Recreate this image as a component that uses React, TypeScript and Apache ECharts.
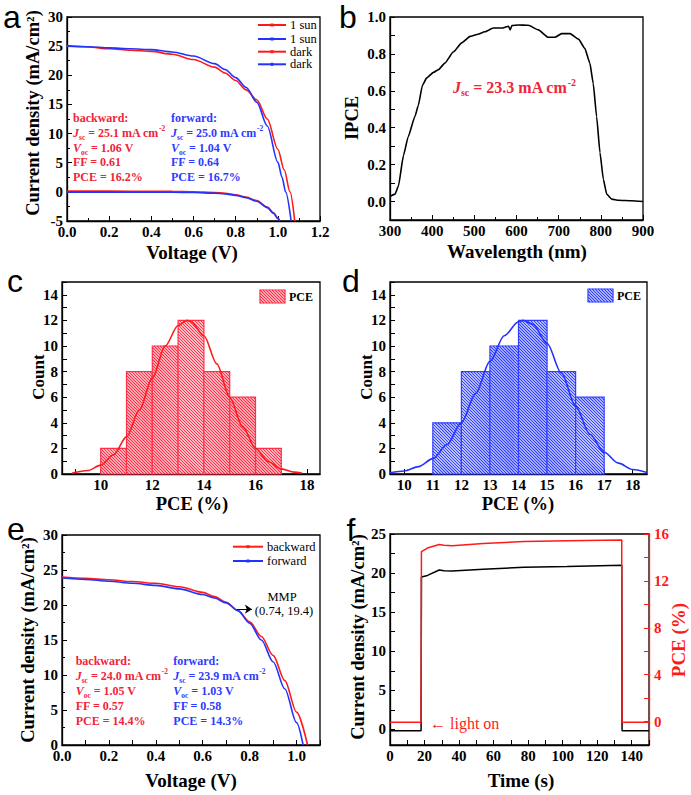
import React, { useEffect, useRef } from 'react';
import * as echarts from 'echarts';

const FONT = 'Liberation Serif';
const SANS = 'Liberation Sans';
const RED = '#ff1a1a';
const BLUE = '#2233ff';
const TEXT_RED = '#f0243a';
const TEXT_BLUE = '#2f3bff';
const HIST_RED = '#ff2f48';
const HIST_BLUE = '#2f3fff';

// ---------- panel a : J-V (1 sun & dark)
const aSunBwdV = [0, 0.1, 0.2, 0.3, 0.4, 0.5, 0.6, 0.7, 0.75, 0.8, 0.85, 0.9, 0.95, 1.0, 1.03, 1.058, 1.08];
const aSunBwdJ = [25.1, 24.85, 24.55, 24.3, 24.1, 23.6, 22.7, 21.4, 20.4, 19.1, 17.5, 15.8, 12.5, 7.3, 3.8, 0, -5];
const aSunFwdV = [0, 0.1, 0.2, 0.3, 0.4, 0.5, 0.6, 0.7, 0.75, 0.8, 0.85, 0.9, 0.95, 1.0, 1.02, 1.037, 1.063];
const aSunFwdJ = [25.0, 24.9, 24.7, 24.55, 24.4, 24.0, 23.3, 22.0, 21.0, 19.6, 17.9, 15.4, 11.3, 5.1, 2.5, 0, -5];
const aDarkV = [0, 0.2, 0.4, 0.5, 0.6, 0.7, 0.75, 0.8, 0.85, 0.9, 0.95, 0.98, 1.0, 1.01];
const aDarkBwdJ = [0.12, 0.12, 0.1, 0.08, 0.03, -0.1, -0.25, -0.5, -0.9, -1.5, -2.6, -3.6, -4.5, -5];
const aDarkFwdJ = [-0.05, -0.05, -0.06, -0.08, -0.12, -0.22, -0.35, -0.6, -1.0, -1.6, -2.7, -3.7, -4.6, -5];
const aLegend = ['1 sun', '1 sun', 'dark', 'dark'];
const aBwdStats = ['25.1', '1.06', '0.61', '16.2'];
const aFwdStats = ['25.0', '1.04', '0.64', '16.7'];

// ---------- panel b : IPCE
const bWl = [302, 312, 320, 332, 343, 359, 367, 377, 387, 403, 415, 430, 450, 470, 490, 506, 525, 545, 565, 581, 585, 589, 604, 628, 652, 675, 691, 707, 727, 747, 762, 774, 782, 790, 798, 806, 814, 826, 842, 873, 900];
const bIpce = [0.03, 0.04, 0.085, 0.25, 0.35, 0.46, 0.52, 0.63, 0.67, 0.70, 0.715, 0.75, 0.81, 0.86, 0.895, 0.905, 0.92, 0.94, 0.94, 0.95, 0.93, 0.953, 0.957, 0.955, 0.93, 0.89, 0.89, 0.91, 0.91, 0.88, 0.83, 0.75, 0.64, 0.46, 0.265, 0.12, 0.04, 0.013, 0.007, 0.004, 0.0];
const bJsc = '23.3';

// ---------- panel c : histogram (backward)
const BIN_W = 1;
const cBins = [10, 11, 12, 13, 14, 15, 16];
const cCounts = [2, 8, 10, 12, 8, 6, 2];
const cFitX = [8.9, 9.5, 10, 10.5, 11, 11.5, 12, 12.5, 13, 13.35, 13.5, 14, 14.5, 15, 15.5, 16, 16.5, 17, 17.5, 17.8];
const cFitY = [0.07, 0.27, 0.69, 1.5, 2.9, 5.0, 7.5, 10.0, 11.6, 12.0, 11.9, 10.8, 8.6, 6.0, 3.7, 2.0, 0.96, 0.4, 0.15, 0.07];

// ---------- panel d : histogram (forward)
const dBins = [11, 12, 13, 14, 15, 16];
const dCounts = [4, 8, 10, 12, 8, 6];
const dFitX = [9.5, 10, 10.5, 11, 11.5, 12, 12.5, 13, 13.5, 14, 14.15, 14.5, 15, 15.5, 16, 16.5, 17, 17.5, 18, 18.5];
const dFitY = [0.1, 0.24, 0.58, 1.2, 2.3, 4.0, 6.3, 8.8, 10.8, 11.9, 12.0, 11.7, 10.2, 7.9, 5.3, 3.1, 1.7, 0.85, 0.35, 0.12];

// ---------- panel e : J-V backward / forward
const eBwdV = [0, 0.1, 0.2, 0.3, 0.4, 0.5, 0.6, 0.65, 0.7, 0.75, 0.8, 0.85, 0.9, 0.95, 1.0, 1.047];
const eBwdJ = [24.0, 23.8, 23.6, 23.35, 23.1, 22.6, 21.8, 21.2, 20.4, 19.2, 17.6, 15.5, 12.8, 9.2, 4.7, 0];
const eFwdV = [0, 0.1, 0.2, 0.3, 0.4, 0.5, 0.6, 0.65, 0.7, 0.75, 0.8, 0.85, 0.9, 0.95, 1.0, 1.028];
const eFwdJ = [23.85, 23.65, 23.4, 23.1, 22.8, 22.3, 21.5, 21.0, 20.3, 19.2, 17.4, 15.0, 11.9, 8.0, 3.2, 0];
const eLegend = ['backward', 'forward'];
const eBwdStats = ['24.0', '1.05', '0.57', '14.4'];
const eFwdStats = ['23.9', '1.03', '0.58', '14.3'];
const mmpPoint = [0.745, 19.4];
const mmpArrowEndV = 0.81;

// ---------- panel f : stabilized output
const fT = [0, 18, 18.2, 21.7, 28.5, 31.3, 36, 54, 77.5, 102.5, 134.2, 134.4, 150];
const fJ = [-0.17, -0.17, 19.5, 19.7, 20.4, 20.3, 20.25, 20.5, 20.75, 20.85, 21.0, -0.17, -0.17];
const fPce = [-0.05, -0.05, 14.5, 14.8, 15.1, 15.05, 15.0, 15.2, 15.35, 15.42, 15.48, -0.05, -0.05];

// ---------- tick lists
const bYLabels = [0, 0.2, 0.4, 0.6, 0.8, 1.0];
const bYTicks = [0, 0.1, 0.2, 0.3, 0.4, 0.5, 0.6, 0.7, 0.8, 0.9, 1.0];
const histYLabels = [0, 2, 4, 6, 8, 10, 12, 14];
const histYTicks = [0, 1, 2, 3, 4, 5, 6, 7, 8, 9, 10, 11, 12, 13, 14, 15];
const cXLabels = [10, 12, 14, 16, 18];
const cXTicks = [9, 10, 11, 12, 13, 14, 15, 16, 17, 18];
const dXLabels = [10, 11, 12, 13, 14, 15, 16, 17, 18];
const eXLabels = [0, 0.2, 0.4, 0.6, 0.8, 1.0];
const eXTicks = [0, 0.1, 0.2, 0.3, 0.4, 0.5, 0.6, 0.7, 0.8, 0.9, 1.0, 1.1];
const fXLabels = [0, 20, 40, 60, 80, 100, 120, 140];
const fXTicks = [0, 10, 20, 30, 40, 50, 60, 70, 80, 90, 100, 110, 120, 130, 140, 150];
const fYLabels = [0, 5, 10, 15, 20, 25];
const fYTicks = [0, 2.5, 5, 7.5, 10, 12.5, 15, 17.5, 20, 22.5, 25];
const fY2Labels = [0, 4, 8, 12, 16];
const fY2Ticks = [0, 2, 4, 6, 8, 10, 12, 14, 16];

const zip = (xs: number[], ys: number[]) => xs.map((x, i) => [x, ys[i]]);

const labelStyle = (color = '#000', margin = 4) => ({
  color, fontFamily: FONT, fontWeight: 'bold', fontSize: 15, margin, lineHeight: 11,
});

function axis(gridIndex: number, min: number, max: number, o: any = {}) {
  const color = o.color || '#000';
  const a: any = {
    type: 'value', gridIndex, min, max,
    position: o.position,
    axisLine: { show: true, onZero: false, lineStyle: { color, width: 1.3 } },
    axisTick: { show: true, inside: true, length: 5, lineStyle: { color, width: 1 } },
    minorTick: { show: false },
    axisLabel: { ...labelStyle(color, o.margin ?? 4) },
    splitLine: { show: false },
  };
  if (o.interval !== undefined) {
    a.interval = o.interval;
    a.minorTick = { show: true, splitNumber: 2, length: 3, lineStyle: { color, width: 1 } };
  }
  if (o.labels) a.axisLabel.customValues = o.labels;
  if (o.ticks) a.axisTick.customValues = o.ticks;
  if (o.formatter) a.axisLabel.formatter = o.formatter;
  return a;
}

function lineS(xs: number[], ys: number[], color: string, xi: number, yi: number, extra: any = {}) {
  return {
    type: 'line', data: zip(xs, ys), xAxisIndex: xi, yAxisIndex: yi,
    showSymbol: false, symbol: 'none', smooth: 0.3, smoothMonotone: 'x',
    lineStyle: { color, width: 1.6 }, itemStyle: { color }, z: 3, silent: true,
    ...extra,
  };
}

function hatchLines(L: number, T: number, R: number, B: number, color: string, s = 3.0) {
  const out: any[] = [];
  const kStart = Math.ceil((L - B) / s) * s;
  for (let k = kStart; k <= R - T; k += s) {
    const xa = Math.max(L, T + k);
    const xb = Math.min(R, B + k);
    if (xb > xa) {
      out.push({ type: 'line', shape: { x1: xa, y1: xa - k, x2: xb, y2: xb - k }, style: { stroke: color, lineWidth: 1.25 } });
    }
  }
  return out;
}

function histSeries(bins: number[], counts: number[], color: string, xi: number, yi: number) {
  return {
    type: 'custom', xAxisIndex: xi, yAxisIndex: yi, silent: true, z: 2,
    data: bins.map((b, i) => [b, b + BIN_W, counts[i]]),
    encode: { x: [0, 1], y: 2 },
    renderItem: (params: any, api: any) => {
      const p0 = api.coord([api.value(0), api.value(2)]);
      const p1 = api.coord([api.value(1), 0]);
      const L = p0[0], T = p0[1], R = p1[0], B = p1[1];
      return {
        type: 'group',
        children: [
          { type: 'rect', shape: { x: L, y: T, width: R - L, height: B - T }, style: { fill: '#fff', stroke: 'none' } },
          ...hatchLines(L, T, R, B, color),
          { type: 'rect', shape: { x: L, y: T, width: R - L, height: B - T }, style: { fill: 'none', stroke: color, lineWidth: 1.2 } },
        ],
      };
    },
  };
}

function richStyles(color: string, size: number) {
  const base = { fill: color, fontFamily: FONT, fontWeight: 'bold', fontSize: size, lineHeight: size + 4 };
  return {
    b: base,
    i: { ...base, fontStyle: 'italic' },
    sub: { ...base, fontSize: size * 0.62, lineHeight: 4, verticalAlign: 'bottom' },
    sup: { ...base, fontSize: size * 0.62, lineHeight: 4, verticalAlign: 'top' },
  };
}

function text(x: number, y: number, t: string, size: number, o: any = {}) {
  return {
    type: 'text', x, y, rotation: o.rot || 0, z: 100, silent: true,
    style: {
      text: t, fill: o.color || '#000', fontFamily: o.family || FONT, fontSize: size,
      fontWeight: o.weight || 'bold', fontStyle: o.italic ? 'italic' : 'normal',
      textAlign: o.align || 'center', textVerticalAlign: 'middle',
      align: o.align || 'center', verticalAlign: 'middle',
      lineHeight: o.lineHeight, rich: o.rich,
    },
  };
}

function statsBlock(x: number, ys: number[], head: string, st: string[], color: string, size: number) {
  const rich = richStyles(color, size);
  const rows = [
    `{b|${head}}`,
    `{i|J}{sub|sc}{b| = ${st[0]} mA cm}{sup|-2}`,
    `{i|V}{sub|oc}{b| = ${st[1]} V}`,
    `{b|FF = ${st[2]}}`,
    `{b|PCE = ${st[3]}%}`,
  ];
  return rows.map((r, i) => text(x, ys[i], r, size, { align: 'left', color, rich }));
}

function legendLine(x1: number, x2: number, y: number, color: string, label: string, size: number) {
  return [
    { type: 'line', z: 100, shape: { x1, y1: y, x2, y2: y }, style: { stroke: color, lineWidth: 2 } },
    { type: 'rect', z: 100, shape: { x: (x1 + x2) / 2 - 1.5, y: y - 1.5, width: 3, height: 3 }, style: { fill: color } },
    text(x2 + 4, y, label, size, { align: 'left', weight: 'normal' }),
  ];
}

function legendBox(L: number, T: number, W: number, H: number, color: string) {
  return [
    { type: 'rect', z: 100, shape: { x: L, y: T, width: W, height: H }, style: { fill: '#fff' } },
    ...hatchLines(L, T, L + W, T + H, color).map((e) => ({ ...e, z: 100 })),
    { type: 'rect', z: 100, shape: { x: L, y: T, width: W, height: H }, style: { fill: 'none', stroke: color, lineWidth: 1.2 } },
    text(L + W + 4, T + H / 2, 'PCE', 12, { align: 'left' }),
  ];
}

function buildOption(): any {
  const gridBase = { show: true, borderColor: '#000', borderWidth: 1.3, containLabel: false, outerBoundsMode: 'none' };
  const grid = [
    { ...gridBase, left: 67, top: 17, width: 253, height: 204 },
    { ...gridBase, left: 390, top: 17, width: 253, height: 203 },
    { ...gridBase, left: 62, top: 282, width: 258, height: 192 },
    { ...gridBase, left: 390, top: 282, width: 257, height: 192 },
    { ...gridBase, left: 62, top: 535, width: 258, height: 210 },
    { ...gridBase, left: 390, top: 534, width: 259, height: 211 },
  ];
  const f1 = (v: number) => v.toFixed(1);
  const xAxis = [
    axis(0, 0, 1.2, { interval: 0.2, formatter: f1, margin: 5 }),
    axis(1, 300, 900, { interval: 100, margin: 5 }),
    axis(2, 8.5, 18.5, { labels: cXLabels, ticks: cXTicks, margin: 5 }),
    axis(3, 9.5, 18.5, { labels: dXLabels, ticks: dXLabels, margin: 5 }),
    axis(4, 0, 1.1, { labels: eXLabels, ticks: eXTicks, formatter: f1, margin: 5 }),
    axis(5, 0, 150, { labels: fXLabels, ticks: fXTicks, margin: 5 }),
  ];
  const yAxis = [
    axis(0, -5, 30, { interval: 5 }),
    axis(1, -0.1, 1.0, { labels: bYLabels, ticks: bYTicks, formatter: f1 }),
    axis(2, 0, 15, { labels: histYLabels, ticks: histYTicks }),
    axis(3, 0, 15, { labels: histYLabels, ticks: histYTicks }),
    axis(4, 0, 30, { interval: 5 }),
    axis(5, -2, 25, { labels: fYLabels, ticks: fYTicks }),
    axis(5, -2, 16, { labels: fY2Labels, ticks: fY2Ticks, color: RED, position: 'right', margin: 5 }),
  ];

  const series: any[] = [
    // a
    lineS(aSunBwdV, aSunBwdJ, RED, 0, 0),
    lineS(aSunFwdV, aSunFwdJ, BLUE, 0, 0),
    lineS(aDarkV, aDarkBwdJ, RED, 0, 0),
    lineS(aDarkV, aDarkFwdJ, BLUE, 0, 0),
    // b
    lineS(bWl, bIpce, '#000', 1, 1, { smooth: 0.15, lineStyle: { color: '#000', width: 1.6 } }),
    // c
    histSeries(cBins, cCounts, HIST_RED, 2, 2),
    lineS(cFitX, cFitY, RED, 2, 2, { smooth: 0.3, z: 5 }),
    // d
    histSeries(dBins, dCounts, HIST_BLUE, 3, 3),
    lineS(dFitX, dFitY, BLUE, 3, 3, { smooth: 0.3, z: 5 }),
    // e
    lineS(eBwdV, eBwdJ, RED, 4, 4),
    lineS(eFwdV, eFwdJ, BLUE, 4, 4, {
      markLine: {
        silent: true, symbol: ['none', 'arrow'], symbolSize: 7, animation: false,
        lineStyle: { color: '#000', width: 1, type: 'solid' }, label: { show: false },
        data: [[{ coord: [mmpPoint[0], mmpPoint[1]] }, { coord: [mmpArrowEndV, mmpPoint[1]] }]],
      },
    }),
    // f
    lineS(fT, fJ, '#000', 5, 5, { smooth: false, lineStyle: { color: '#000', width: 1.5 } }),
    lineS(fT, fPce, RED, 5, 6, { smooth: false, lineStyle: { color: RED, width: 1.5 } }),
  ];

  const R90 = Math.PI / 2;
  const letter = { family: SANS, weight: 'normal', lineHeight: 30 };
  const graphic: any[] = [
    // panel letters
    text(12, 17, 'a', 32, letter),
    text(348, 17, 'b', 32, letter),
    text(15, 281, 'c', 32, letter),
    text(351, 281, 'd', 32, letter),
    text(16, 529, 'e', 32, letter),
    text(351, 530, 'f', 32, letter),
    // axis titles
    text(33, 113, 'Current density (mA/cm\u00B2)', 18.5, { rot: R90 }),
    text(192, 252, 'Voltage (V)', 19),
    text(352, 118, 'IPCE', 18.5, { rot: R90 }),
    text(517, 251, 'Wavelength (nm)', 19),
    text(38, 377, 'Count', 17, { rot: R90 }),
    text(192, 503.5, 'PCE (%)', 18.5),
    text(366, 377, 'Count', 17, { rot: R90 }),
    text(518, 503.5, 'PCE (%)', 18.5),
    text(28, 640, 'Current density (mA/cm\u00B2)', 18.5, { rot: R90 }),
    text(191, 780, 'Voltage (V)', 19),
    text(358, 637, 'Current density (mA/cm\u00B2)', 18.5, { rot: R90 }),
    text(521, 780, 'Time (s)', 19),
    text(678, 640, 'PCE (%)', 19, { rot: R90, color: RED }),
    // a legend and stats
    ...legendLine(258, 286, 25, RED, aLegend[0], 12.5),
    ...legendLine(258, 286, 39, BLUE, aLegend[1], 12.5),
    ...legendLine(258, 286, 51.7, RED, aLegend[2], 12.5),
    ...legendLine(258, 286, 64.3, BLUE, aLegend[3], 12.5),
    ...statsBlock(73, [118.3, 133.3, 147.5, 162.3, 176.5], 'backward:', aBwdStats, TEXT_RED, 12),
    ...statsBlock(171, [118.3, 133.3, 147.5, 162.3, 176.5], 'forward:', aFwdStats, TEXT_BLUE, 12),
    // b annotation
    text(453, 87, `{i|J}{sub|sc}{b| = ${bJsc} mA cm}{sup|-2}`, 16, { align: 'left', color: TEXT_RED, rich: richStyles(TEXT_RED, 16) }),
    // c, d legends
    ...legendBox(260, 290, 25, 13, HIST_RED),
    ...legendBox(588, 289, 25, 13, HIST_BLUE),
    // e legend, stats, MMP
    ...legendLine(233, 263, 546.7, RED, eLegend[0], 12.5),
    ...legendLine(233, 263, 561, BLUE, eLegend[1], 12.5),
    ...statsBlock(75.7, [661, 675.7, 691, 706, 720.7], 'backward:', eBwdStats, TEXT_RED, 12),
    ...statsBlock(173.3, [661, 675.7, 691, 706, 720.7], 'forward:', eFwdStats, TEXT_BLUE, 12),
    text(282, 596.7, 'MMP', 12.5, { weight: 'normal' }),
    text(284, 611, '(0.74, 19.4)', 12.5, { weight: 'normal' }),
    // f
    text(430, 723, '\u2190 light on', 16, { align: 'left', weight: 'normal', color: RED }),
  ];

  return {
    animation: false,
    backgroundColor: '#fff',
    textStyle: { fontFamily: FONT },
    grid, xAxis, yAxis, series, graphic,
  };
}

export default function App() {
  const ref = useRef<HTMLDivElement>(null);
  useEffect(() => {
    if (!ref.current) return;
    const chart = echarts.init(ref.current, null, { renderer: 'svg' });
    chart.setOption(buildOption());
    return () => chart.dispose();
  }, []);
  return (
    <div
      ref={ref}
      style={{ position: 'absolute', left: 0, top: 0, width: 691, height: 795, background: '#fff' }}
    />
  );
}
